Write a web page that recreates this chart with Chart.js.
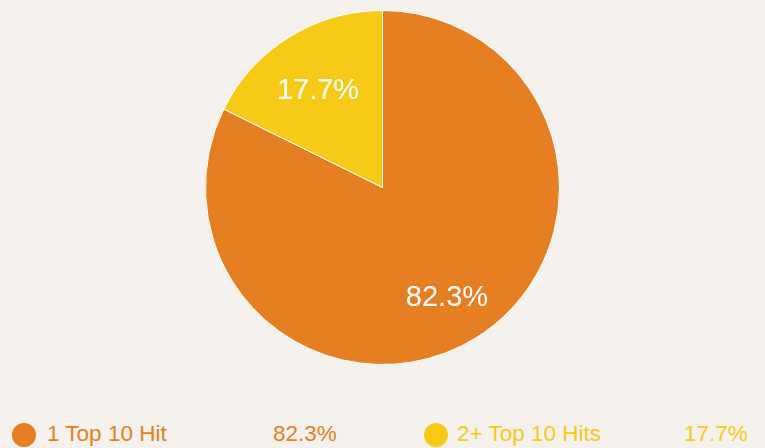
<!DOCTYPE html>
<html>
<head>
<meta charset="utf-8">
<script src="https://cdn.jsdelivr.net/npm/chart.js@4"></script>
<style>
  html, body { margin:0; padding:0; background:#F5F2EE; }
  body { width:765px; height:448px; position:relative; overflow:hidden; font-family:"Liberation Sans", Arial, sans-serif; }
  #wrap { position:absolute; left:0; top:0; width:765px; height:375px; }
  .dot { position:absolute; width:24px; height:24px; border-radius:50%; top:422.5px; }
  .lt { position:absolute; top:421px; font-size:22.5px; line-height:26px; white-space:nowrap; }
</style>
</head>
<body>
<div id="wrap"><canvas id="c"></canvas></div>
<div id="legend"></div>
<script>
const categories = ["1 Top 10 Hit", "2+ Top 10 Hits"];
const values = [82.3, 17.7];
const colors = ["#E67E22", "#F7CA18"];
const valueLabels = ["82.3%", "17.7%"];

const sliceLabels = {
  id: 'sliceLabels',
  afterDatasetsDraw(chart) {
    const ctx = chart.ctx;
    const meta = chart.getDatasetMeta(0);
    ctx.save();
    ctx.fillStyle = '#FFFFFF';
    ctx.font = '29px "Liberation Sans", Arial, sans-serif';
    ctx.textAlign = 'center';
    ctx.textBaseline = 'middle';
    meta.data.forEach((arc, i) => {
      const p = arc.getProps(['x','y','startAngle','endAngle','outerRadius'], true);
      const mid = (p.startAngle + p.endAngle) / 2;
      const r = p.outerRadius * 0.69;
      ctx.fillText(valueLabels[i], p.x + Math.cos(mid) * r, p.y + Math.sin(mid) * r + 7);
    });
    ctx.restore();
  }
};

new Chart(document.getElementById('c'), {
  type: 'pie',
  data: {
    labels: categories,
    datasets: [{
      data: values,
      backgroundColor: colors,
      borderColor: '#FFFFFF',
      borderWidth: 1
    }]
  },
  options: {
    responsive: true,
    maintainAspectRatio: false,
    animation: false,
    layout: { padding: { top: 10, bottom: 10 } },
    plugins: { legend: { display: false }, tooltip: { enabled: false } }
  },
  plugins: [sliceLabels]
});

// HTML legend
const legend = document.getElementById('legend');
const dotX = [12, 424];
const nameX = [47, 457];
const valX = [273, 684];
categories.forEach((name, i) => {
  const d = document.createElement('div');
  d.className = 'dot'; d.style.left = dotX[i] + 'px'; d.style.background = colors[i];
  legend.appendChild(d);
  const n = document.createElement('div');
  n.className = 'lt'; n.style.left = nameX[i] + 'px'; n.style.color = colors[i]; n.textContent = name;
  legend.appendChild(n);
  const v = document.createElement('div');
  v.className = 'lt'; v.style.left = valX[i] + 'px'; v.style.color = colors[i]; v.textContent = valueLabels[i];
  legend.appendChild(v);
});
</script>
</body>
</html>
